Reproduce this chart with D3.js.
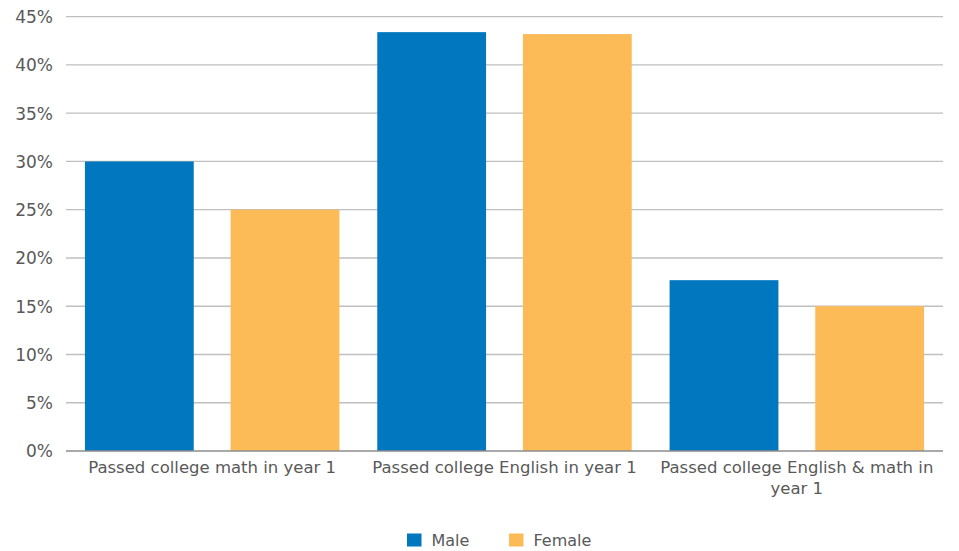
<!DOCTYPE html>
<html><head><meta charset="utf-8">
<script src="https://cdn.jsdelivr.net/npm/d3@7/dist/d3.min.js"></script>
<style>
html,body{margin:0;padding:0;background:#fff;}
svg{display:block;}
text{font-family:"DejaVu Sans",sans-serif;fill:#595959;}
</style></head>
<body>
<svg id="chart" width="959" height="551"></svg>
<script>
const categories = ["Passed college math in year 1", "Passed college English in year 1", "Passed college English & math in year 1"];
const seriesNames = ["Male", "Female"];
const male = [30.0, 43.4, 17.7];
const female = [25.0, 43.2, 15.0];
const yTicks = [0, 5, 10, 15, 20, 25, 30, 35, 40, 45];
const colors = ["#0077BE", "#FDBB58"];

(function () {
const svg = d3.select("#chart");
const mLeft = 66, mRight = 943, mTop = 16.7, mBottom = 451;

const x0 = d3.scaleBand().domain(categories).range([mLeft, mRight]).paddingInner(0).paddingOuter(0);
const x1 = d3.scaleBand().domain(seriesNames).range([0, x0.bandwidth()]).paddingInner(0.253).paddingOuter(0.13);
const y = d3.scaleLinear().domain([0, 45]).range([mBottom, mTop]);

svg.append("g").selectAll("line").data(yTicks.filter(d => d > 0)).join("line")
  .attr("x1", mLeft).attr("x2", mRight)
  .attr("y1", d => y(d)).attr("y2", d => y(d))
  .attr("stroke", "#BFBFBF").attr("stroke-width", 1.3);

const yAxis = d3.axisLeft(y).tickValues(yTicks).tickFormat(d => d + "%").tickSize(0).tickPadding(13);
const ya = svg.append("g").attr("transform", `translate(${mLeft},0)`).call(yAxis);
ya.select(".domain").remove();
ya.selectAll("text").attr("font-size", 17).attr("fill", "#595959")
  .style("font-family", "'DejaVu Sans',sans-serif").attr("dy", "0.35em");

const data = categories.map((c, i) => ({cat: c, vals: [male[i], female[i]]}));
const groups = svg.append("g").selectAll("g").data(data).join("g")
  .attr("transform", d => `translate(${x0(d.cat)},0)`);
groups.selectAll("rect").data(d => d.vals.map((v, j) => ({name: seriesNames[j], v, j}))).join("rect")
  .attr("x", d => x1(d.name)).attr("width", x1.bandwidth())
  .attr("y", d => y(d.v)).attr("height", d => mBottom - y(d.v))
  .attr("fill", d => colors[d.j]);

svg.append("line").attr("x1", mLeft).attr("x2", mRight).attr("y1", mBottom).attr("y2", mBottom)
  .attr("stroke", "#8C8C8C").attr("stroke-width", 1.3);

const maxW = x0.bandwidth() - 4;
categories.forEach(c => {
  const cx = x0(c) + x0.bandwidth() / 2;
  const t = svg.append("text").attr("x", cx).attr("y", 473).attr("text-anchor", "middle").attr("font-size", 16.5);
  const words = c.split(" ");
  let line = [];
  let ts = t.append("tspan").attr("x", cx).attr("dy", 0);
  words.forEach(w => {
    line.push(w);
    ts.text(line.join(" "));
    if (ts.node().getComputedTextLength() > maxW && line.length > 1) {
      line.pop(); ts.text(line.join(" "));
      line = [w];
      ts = t.append("tspan").attr("x", cx).attr("dy", 21).text(w);
    }
  });
});

const leg = svg.append("g");
const legItems = [{name: "Male", x: 407}, {name: "Female", x: 509}];
legItems.forEach((d, i) => {
  leg.append("rect").attr("x", d.x).attr("y", 533.5).attr("width", 14.5).attr("height", 13).attr("fill", colors[i]);
  leg.append("text").attr("x", d.x + 24.5).attr("y", 540).attr("dy", "0.35em").attr("font-size", 16).text(d.name);
});
})();
</script>
</body></html>
